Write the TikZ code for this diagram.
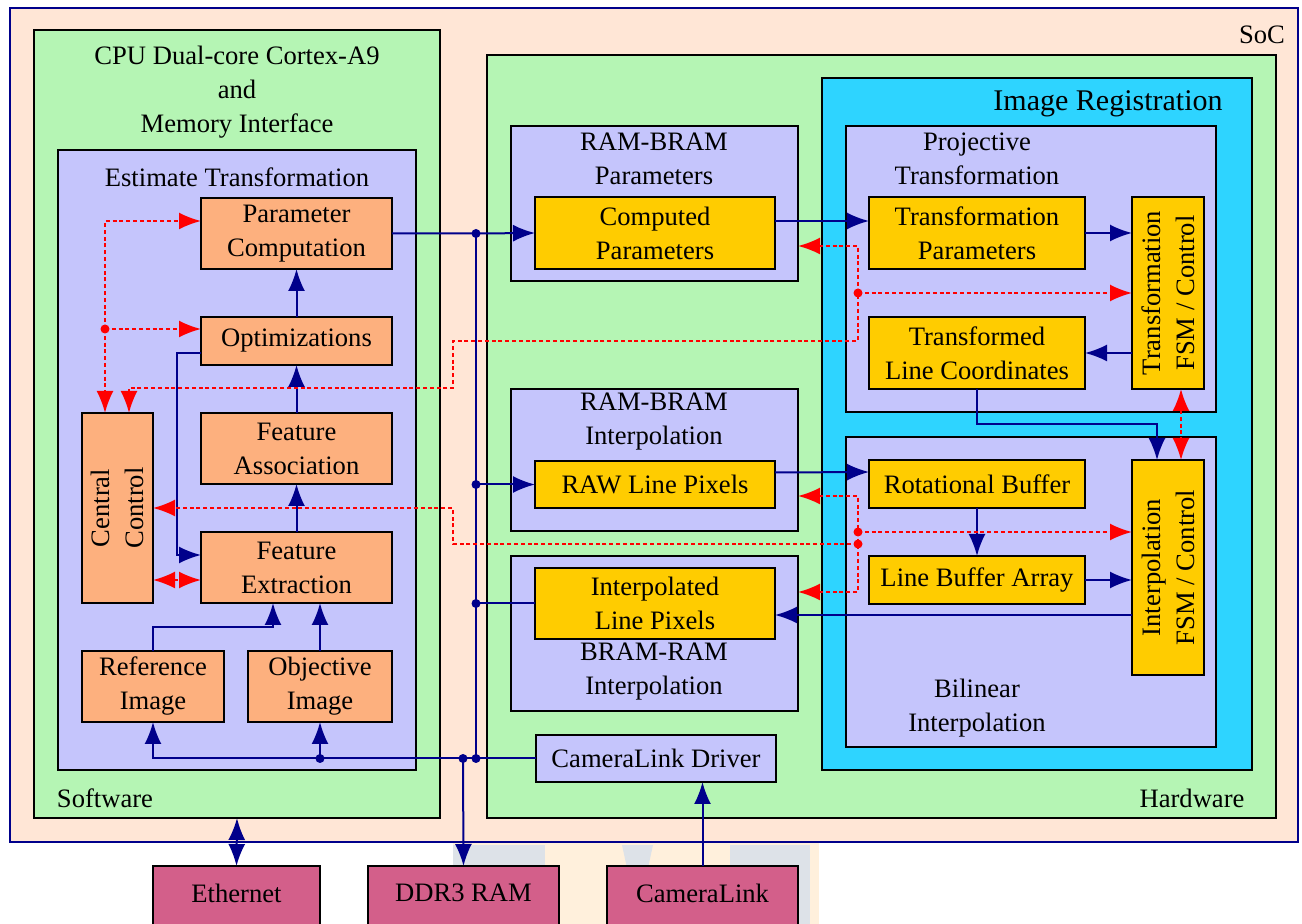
\documentclass[tikz,border=0pt]{standalone}
\usepackage{fontspec}
\setmainfont{Liberation Serif}
\usetikzlibrary{arrows.meta,calc}
\definecolor{socbg}{HTML}{FFE6D6}
\definecolor{grn}{HTML}{B5F5B4}
\definecolor{lav}{HTML}{C5C5FC}
\definecolor{org}{HTML}{FDB07E}
\definecolor{ylw}{HTML}{FFCC00}
\definecolor{cyn}{HTML}{2ED4FF}
\definecolor{pnk}{HTML}{D35F8A}
\definecolor{nvy}{HTML}{00008B}
\definecolor{wmb}{HTML}{FFF0DC}
\definecolor{wmg}{HTML}{DDE2E8}
\newcommand\bx[7]{\node[#6, minimum width={(#4-#2)*0.5pt}, minimum height={(#5-#3)*0.5pt}] (#1) at ({(#2+#4)/2},{(#3+#5)/2}) {#7};}
\begin{document}
\begin{tikzpicture}[x=0.5pt,y=-0.5pt,
  font=\fontsize{13.3pt}{17pt}\selectfont,
  base/.style={draw=black,line width=1.4pt,inner sep=0pt,outer sep=0pt,align=center},
  grnbox/.style={base,fill=grn},
  lavbox/.style={base,fill=lav},
  orgbox/.style={base,fill=org},
  ylwbox/.style={base,fill=ylw},
  cynbox/.style={base,fill=cyn},
  pnkbox/.style={base,fill=pnk},
  lbl/.style={inner sep=0pt,align=center},
  nl/.style={draw=nvy,line width=1pt},
  nv/.style={nl,-{Latex[length=11pt,width=8.5pt]}},
  nvd/.style={nl,{Latex[length=11pt,width=8.5pt]}-{Latex[length=11pt,width=8.5pt]}},
  rl/.style={draw=red,line width=1pt,dash pattern=on 2pt off 1.4pt},
  rd/.style={rl,-{Latex[length=11pt,width=8.5pt]}},
  rdd/.style={rl,{Latex[length=11pt,width=8.5pt]}-{Latex[length=11pt,width=8.5pt]}},
  ndot/.style={circle,fill=nvy,inner sep=0pt,minimum size=4.5pt},
  rdot/.style={circle,fill=red,inner sep=0pt,minimum size=4.5pt}]
\useasboundingbox (0,0) rectangle (1302,924);
\fill[white] (0,0) rectangle (1302,924);
% watermark
\fill[wmb] (453,843) rectangle (819,924);
\fill[wmg] (453,845) rectangle (545,924);
\fill[wmg] (730,845) rectangle (810,924);
\fill[wmg] (622,845) -- (653,845) -- (648,868) -- (627,868) -- cycle;
% SoC
\bx{soc}{10}{8}{1298}{842}{base,draw=nvy,line width=1pt,fill=socbg}{}
\node[lbl] (soct) at (1262,35) {SoC};
% Software
\bx{sw}{34}{30}{440}{818}{grnbox}{}
\node[lbl] (swt) at (237,92) {CPU Dual-core Cortex-A9\\and\\Memory Interface};
\node[lbl] (swl) at (105,798) {Software};
\bx{et}{58}{150}{416}{770}{lavbox}{}
\node[lbl] (ett) at (237,177) {Estimate Transformation};
\bx{pc}{201}{198}{392}{269}{orgbox}{Parameter\\Computation}
\bx{opt}{201}{317}{392}{365}{orgbox}{Optimizations}
\bx{fa}{201}{413}{392}{484}{orgbox}{Feature\\Association}
\bx{cc}{82}{413}{153}{603}{orgbox}{}
\node[lbl,rotate=90] (cct) at (cc) {Central\\Control};
\bx{fe}{201}{532}{392}{603}{orgbox}{Feature\\Extraction}
\bx{ri}{82}{651}{224}{722}{orgbox}{Reference\\Image}
\bx{oi}{248}{651}{392}{722}{orgbox}{Objective\\Image}
% Hardware
\bx{hw}{487}{55}{1276}{818}{grnbox}{}
\node[lbl] (hwl) at (1192,798) {Hardware};
\bx{rbp}{511}{126}{798}{281}{lavbox}{}
\node[lbl] (rbpt) at (654,159) {RAM-BRAM\\Parameters};
\bx{cp}{535}{197}{775}{269}{ylwbox}{Computed\\Parameters}
\bx{rbi}{511}{389}{798}{531}{lavbox}{}
\node[lbl] (rbit) at (654,422) {RAM-BRAM\\Interpolation};
\bx{rlp}{535}{461}{775}{508}{ylwbox}{RAW Line Pixels}
\bx{bri}{511}{556}{798}{711}{lavbox}{}
\node[lbl] (brit) at (654,672) {BRAM-RAM\\Interpolation};
\bx{ilp}{535}{568}{775}{639}{ylwbox}{Interpolated\\Line Pixels}
\bx{cld}{536}{735}{776}{782}{lavbox}{CameraLink Driver}
% Image registration
\bx{ir}{822}{78}{1252}{770}{cynbox}{}
\node[lbl,font=\fontsize{15pt}{18pt}\selectfont] (irt) at (1108,104) {Image Registration};
\bx{pt}{846}{126}{1216}{412}{lavbox}{}
\node[lbl] (ptt) at (977,159) {Projective\\Transformation};
\bx{tp}{869}{197}{1085}{269}{ylwbox}{Transformation\\Parameters}
\bx{tfsm}{1132}{197}{1204}{389}{ylwbox}{}
\node[lbl,rotate=90] (tfsmt) at (tfsm) {Transformation\\FSM / Control};
\bx{tlc}{869}{317}{1085}{389}{ylwbox}{Transformed\\Line Coordinates}
\bx{bi}{846}{437}{1216}{747}{lavbox}{}
\node[lbl] (bit) at (977,708) {Bilinear\\Interpolation};
\bx{rb}{869}{460}{1085}{508}{ylwbox}{Rotational Buffer}
\bx{lba}{869}{556}{1085}{604}{ylwbox}{Line Buffer Array}
\bx{ifsm}{1132}{460}{1204}{675}{ylwbox}{}
\node[lbl,rotate=90] (ifsmt) at (ifsm) {Interpolation\\FSM / Control};
% external
\bx{eth}{153}{866}{320}{950}{pnkbox}{}
\node[lbl] (etht) at (236.5,893) {Ethernet};
\bx{ddr}{368}{866}{559}{950}{pnkbox}{}
\node[lbl] (ddrt) at (463.5,893) {DDR3 RAM};
\bx{cl}{607}{866}{798}{950}{pnkbox}{}
\node[lbl] (clt) at (702.5,893) {CameraLink};
% coordinates
\coordinate (b1) at (320,758.5);
\coordinate (b2) at (463,758.5);
\coordinate (b3) at (476,758.5);
\coordinate (b4) at (476,233.5);
\coordinate (b5) at (476,484.5);
\coordinate (b6) at (476,603.5);
% navy connectors (software)
\draw[nv] (opt.north) -- (pc.south);
\draw[nv] (fa.north) -- (opt.south);
\draw[nv] (fe.north) -- (fa.south);
\draw[nv] ($(opt.west)+(0,12)$) -- ++(-24,0) |- ($(fe.west)+(0,-12.5)$);
\draw[nv] (ri.north) -- ++(0,-24) -| ($(fe.south)+(-23.5,0)$);
\draw[nv] (oi.north) -- ($(fe.south)+(23.5,0)$);
\draw[nv] (cld.west) -| (ri.south);
\draw[nv] (b1) -- (oi.south);
\draw[nv] (b2) -- (ddr.north);
\draw[nl] (b3) -- (b4);
\draw[nv] (pc.east) -- (b4) -- (cp.west);
\draw[nv] (b5) -- (rlp.west);
\draw[nl] (ilp.west) -- (b6);
\draw[nvd] (eth.north) -- (sw.south);
\draw[nv] (cl.north) -- (cl.north |- cld.south);
% navy connectors (hardware)
\draw[nv] ($(cp.east)+(0,-12)$) -- ($(tp.west)+(0,-12)$);
\draw[nv] (tp.east) -- (tp.east -| tfsm.west);
\draw[nv] (tlc.east -| tfsm.west) -- (tlc.east);
\draw[nv] (tlc.south) -- ++(0,35) -| ($(ifsm.north)+(-11,0)$);
\draw[nv] ($(rlp.east)+(0,-12)$) -- ($(rb.west)+(0,-12)$);
\draw[nv] (rb.south) -- (lba.north);
\draw[nv] (lba.east) -- (lba.east -| ifsm.west);
\coordinate (t1) at ($(ilp.east)+(0,11.5)$);
\draw[nv] (t1 -| ifsm.west) -- (t1);
\foreach \p in {b1,b2,b3,b4,b5,b6} \node[ndot] at (\p) {};
% red dashed connectors
\coordinate (r1) at (105,329);
\draw[rd] (r1) |- ($(pc.west)+(0,-12.5)$);
\draw[rd] (r1) -- (r1 -| opt.west);
\draw[rd] (r1) -- ($(cc.north)+(-12.5,0)$);
\coordinate (p1) at (858,341);
\coordinate (p2) at (453,388);
\coordinate (r2) at (858,293);
\draw[rdd] ($(rbp.east)+(0,42.5)$) -| (p1) -- (p2 |- p1) -- (p2) -| ($(cc.north)+(11.5,0)$);
\draw[rd] (r2) -- (r2 -| tfsm.west);
\coordinate (q1) at (858,496);
\coordinate (q2) at (858,592);
\coordinate (r3) at (858,532);
\coordinate (r4) at (858,544);
\coordinate (q3) at (453,544);
\draw[rdd] (q1 -| rbi.east) -- (q1) -- (q2) -- (q2 -| bri.east);
\draw[rd] (r3) -- (r3 -| ifsm.west);
\draw[rd] (r4) -- (q3) |- (cc.east);
\draw[rdd] ($(cc.east)+(0,72)$) -- ($(fe.west)+(0,12.5)$);
\draw[rdd] ($(tfsm.south)+(13,0)$) -- ($(ifsm.north)+(13,0)$);
\foreach \p in {r1,r2,r3,r4} \node[rdot] at (\p) {};
\end{tikzpicture}
\end{document}
